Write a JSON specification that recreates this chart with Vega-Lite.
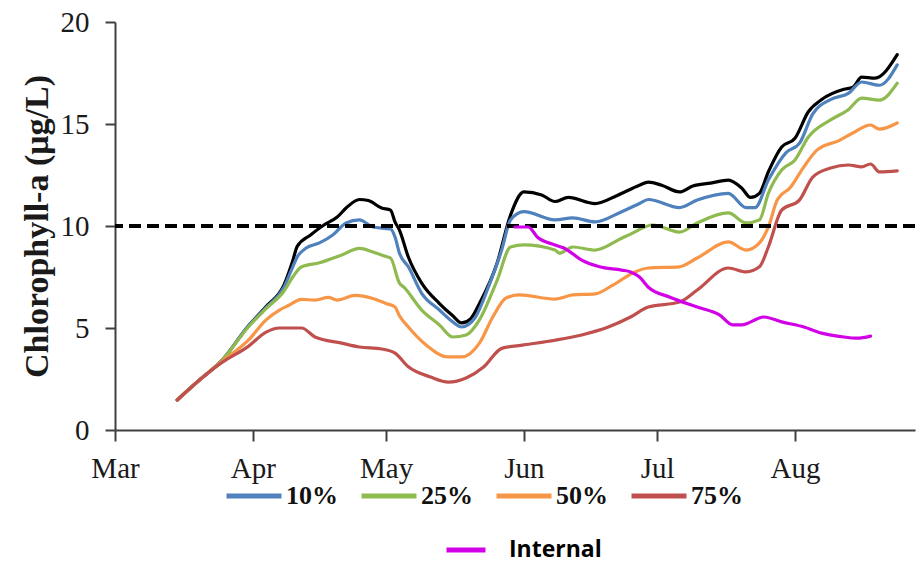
{
  "$schema": "https://vega.github.io/schema/vega-lite/v6.json",
  "width": 800,
  "height": 408,
  "autosize": {"type": "none"},
  "padding": {"left": 115, "top": 22, "right": 5, "bottom": 133},
  "background": "white",
  "config": {
    "view": {"stroke": null},
    "axis": {
      "grid": false,
      "domainColor": "#404040",
      "domainWidth": 2,
      "tickColor": "#404040",
      "tickWidth": 2,
      "labelFont": "Liberation Serif",
      "labelFontSize": 29,
      "labelColor": "#1a1a1a"
    }
  },
  "data": {
    "values": [
      {"date": "2011-03-15", "series": "Base", "value": 1.47},
      {"date": "2011-03-20", "series": "Base", "value": 2.45},
      {"date": "2011-03-25", "series": "Base", "value": 3.4},
      {"date": "2011-03-31", "series": "Base", "value": 5.1},
      {"date": "2011-04-04", "series": "Base", "value": 6.05},
      {"date": "2011-04-08", "series": "Base", "value": 7.1},
      {"date": "2011-04-10", "series": "Base", "value": 8.3},
      {"date": "2011-04-11", "series": "Base", "value": 9.0},
      {"date": "2011-04-14", "series": "Base", "value": 9.56},
      {"date": "2011-04-17", "series": "Base", "value": 10.05},
      {"date": "2011-04-20", "series": "Base", "value": 10.44},
      {"date": "2011-04-22", "series": "Base", "value": 10.88},
      {"date": "2011-04-25", "series": "Base", "value": 11.3},
      {"date": "2011-04-27", "series": "Base", "value": 11.25},
      {"date": "2011-04-30", "series": "Base", "value": 10.88},
      {"date": "2011-05-02", "series": "Base", "value": 10.78},
      {"date": "2011-05-03", "series": "Base", "value": 10.2},
      {"date": "2011-05-04", "series": "Base", "value": 9.8},
      {"date": "2011-05-06", "series": "Base", "value": 8.48},
      {"date": "2011-05-09", "series": "Base", "value": 7.2},
      {"date": "2011-05-13", "series": "Base", "value": 6.2},
      {"date": "2011-05-16", "series": "Base", "value": 5.6},
      {"date": "2011-05-18", "series": "Base", "value": 5.25},
      {"date": "2011-05-20", "series": "Base", "value": 5.45},
      {"date": "2011-05-22", "series": "Base", "value": 6.2},
      {"date": "2011-05-26", "series": "Base", "value": 8.2},
      {"date": "2011-05-29", "series": "Base", "value": 10.54},
      {"date": "2011-06-01", "series": "Base", "value": 11.67},
      {"date": "2011-06-05", "series": "Base", "value": 11.52},
      {"date": "2011-06-08", "series": "Base", "value": 11.2},
      {"date": "2011-06-11", "series": "Base", "value": 11.4},
      {"date": "2011-06-17", "series": "Base", "value": 11.1},
      {"date": "2011-06-22", "series": "Base", "value": 11.5},
      {"date": "2011-06-27", "series": "Base", "value": 12.0},
      {"date": "2011-06-29", "series": "Base", "value": 12.15},
      {"date": "2011-07-02", "series": "Base", "value": 12.0},
      {"date": "2011-07-06", "series": "Base", "value": 11.67},
      {"date": "2011-07-09", "series": "Base", "value": 11.96},
      {"date": "2011-07-13", "series": "Base", "value": 12.1},
      {"date": "2011-07-17", "series": "Base", "value": 12.25},
      {"date": "2011-07-20", "series": "Base", "value": 11.86},
      {"date": "2011-07-22", "series": "Base", "value": 11.4},
      {"date": "2011-07-24", "series": "Base", "value": 11.6},
      {"date": "2011-07-26", "series": "Base", "value": 12.65},
      {"date": "2011-07-29", "series": "Base", "value": 13.87},
      {"date": "2011-08-01", "series": "Base", "value": 14.3},
      {"date": "2011-08-04", "series": "Base", "value": 15.6},
      {"date": "2011-08-07", "series": "Base", "value": 16.2},
      {"date": "2011-08-12", "series": "Base", "value": 16.7},
      {"date": "2011-08-14", "series": "Base", "value": 16.8},
      {"date": "2011-08-16", "series": "Base", "value": 17.3},
      {"date": "2011-08-19", "series": "Base", "value": 17.25},
      {"date": "2011-08-24", "series": "Base", "value": 18.4},

      {"date": "2011-03-15", "series": "10%", "value": 1.47},
      {"date": "2011-03-20", "series": "10%", "value": 2.45},
      {"date": "2011-03-25", "series": "10%", "value": 3.4},
      {"date": "2011-03-31", "series": "10%", "value": 5.1},
      {"date": "2011-04-04", "series": "10%", "value": 6.0},
      {"date": "2011-04-08", "series": "10%", "value": 7.0},
      {"date": "2011-04-10", "series": "10%", "value": 8.0},
      {"date": "2011-04-11", "series": "10%", "value": 8.48},
      {"date": "2011-04-13", "series": "10%", "value": 8.92},
      {"date": "2011-04-16", "series": "10%", "value": 9.17},
      {"date": "2011-04-19", "series": "10%", "value": 9.56},
      {"date": "2011-04-22", "series": "10%", "value": 10.15},
      {"date": "2011-04-25", "series": "10%", "value": 10.3},
      {"date": "2011-04-28", "series": "10%", "value": 9.95},
      {"date": "2011-05-02", "series": "10%", "value": 9.85},
      {"date": "2011-05-03", "series": "10%", "value": 9.46},
      {"date": "2011-05-04", "series": "10%", "value": 8.67},
      {"date": "2011-05-06", "series": "10%", "value": 8.0},
      {"date": "2011-05-09", "series": "10%", "value": 6.7},
      {"date": "2011-05-13", "series": "10%", "value": 5.88},
      {"date": "2011-05-16", "series": "10%", "value": 5.3},
      {"date": "2011-05-18", "series": "10%", "value": 5.05},
      {"date": "2011-05-21", "series": "10%", "value": 5.5},
      {"date": "2011-05-24", "series": "10%", "value": 7.0},
      {"date": "2011-05-27", "series": "10%", "value": 8.82},
      {"date": "2011-05-29", "series": "10%", "value": 10.3},
      {"date": "2011-06-01", "series": "10%", "value": 10.7},
      {"date": "2011-06-08", "series": "10%", "value": 10.3},
      {"date": "2011-06-12", "series": "10%", "value": 10.4},
      {"date": "2011-06-17", "series": "10%", "value": 10.2},
      {"date": "2011-06-23", "series": "10%", "value": 10.7},
      {"date": "2011-06-27", "series": "10%", "value": 11.1},
      {"date": "2011-06-29", "series": "10%", "value": 11.3},
      {"date": "2011-07-06", "series": "10%", "value": 10.9},
      {"date": "2011-07-10", "series": "10%", "value": 11.27},
      {"date": "2011-07-17", "series": "10%", "value": 11.6},
      {"date": "2011-07-21", "series": "10%", "value": 10.9},
      {"date": "2011-07-23", "series": "10%", "value": 10.9},
      {"date": "2011-07-26", "series": "10%", "value": 12.25},
      {"date": "2011-07-30", "series": "10%", "value": 13.6},
      {"date": "2011-08-02", "series": "10%", "value": 14.05},
      {"date": "2011-08-05", "series": "10%", "value": 15.5},
      {"date": "2011-08-09", "series": "10%", "value": 16.2},
      {"date": "2011-08-13", "series": "10%", "value": 16.5},
      {"date": "2011-08-16", "series": "10%", "value": 17.06},
      {"date": "2011-08-20", "series": "10%", "value": 16.9},
      {"date": "2011-08-24", "series": "10%", "value": 17.9},

      {"date": "2011-03-15", "series": "25%", "value": 1.47},
      {"date": "2011-03-20", "series": "25%", "value": 2.45},
      {"date": "2011-03-25", "series": "25%", "value": 3.4},
      {"date": "2011-03-31", "series": "25%", "value": 5.05},
      {"date": "2011-04-04", "series": "25%", "value": 5.95},
      {"date": "2011-04-08", "series": "25%", "value": 6.8},
      {"date": "2011-04-10", "series": "25%", "value": 7.5},
      {"date": "2011-04-12", "series": "25%", "value": 8.0},
      {"date": "2011-04-16", "series": "25%", "value": 8.2},
      {"date": "2011-04-21", "series": "25%", "value": 8.58},
      {"date": "2011-04-25", "series": "25%", "value": 8.9},
      {"date": "2011-04-28", "series": "25%", "value": 8.73},
      {"date": "2011-05-01", "series": "25%", "value": 8.5},
      {"date": "2011-05-02", "series": "25%", "value": 8.43},
      {"date": "2011-05-04", "series": "25%", "value": 7.2},
      {"date": "2011-05-05", "series": "25%", "value": 7.0},
      {"date": "2011-05-09", "series": "25%", "value": 5.88},
      {"date": "2011-05-13", "series": "25%", "value": 5.15},
      {"date": "2011-05-16", "series": "25%", "value": 4.56},
      {"date": "2011-05-19", "series": "25%", "value": 4.66},
      {"date": "2011-05-22", "series": "25%", "value": 5.4},
      {"date": "2011-05-26", "series": "25%", "value": 7.35},
      {"date": "2011-05-29", "series": "25%", "value": 8.97},
      {"date": "2011-06-01", "series": "25%", "value": 9.07},
      {"date": "2011-06-08", "series": "25%", "value": 8.82},
      {"date": "2011-06-09", "series": "25%", "value": 8.67},
      {"date": "2011-06-12", "series": "25%", "value": 8.97},
      {"date": "2011-06-17", "series": "25%", "value": 8.82},
      {"date": "2011-06-23", "series": "25%", "value": 9.4},
      {"date": "2011-06-25", "series": "25%", "value": 9.6},
      {"date": "2011-06-30", "series": "25%", "value": 10.05},
      {"date": "2011-07-06", "series": "25%", "value": 9.7},
      {"date": "2011-07-10", "series": "25%", "value": 10.15},
      {"date": "2011-07-17", "series": "25%", "value": 10.64},
      {"date": "2011-07-21", "series": "25%", "value": 10.15},
      {"date": "2011-07-24", "series": "25%", "value": 10.3},
      {"date": "2011-07-26", "series": "25%", "value": 11.6},
      {"date": "2011-07-29", "series": "25%", "value": 12.75},
      {"date": "2011-08-01", "series": "25%", "value": 13.24},
      {"date": "2011-08-04", "series": "25%", "value": 14.36},
      {"date": "2011-08-09", "series": "25%", "value": 15.2},
      {"date": "2011-08-13", "series": "25%", "value": 15.7},
      {"date": "2011-08-16", "series": "25%", "value": 16.27},
      {"date": "2011-08-20", "series": "25%", "value": 16.17},
      {"date": "2011-08-24", "series": "25%", "value": 17.0},

      {"date": "2011-03-15", "series": "50%", "value": 1.47},
      {"date": "2011-03-20", "series": "50%", "value": 2.45},
      {"date": "2011-03-25", "series": "50%", "value": 3.35},
      {"date": "2011-03-31", "series": "50%", "value": 4.4},
      {"date": "2011-04-04", "series": "50%", "value": 5.4},
      {"date": "2011-04-07", "series": "50%", "value": 5.88},
      {"date": "2011-04-09", "series": "50%", "value": 6.1},
      {"date": "2011-04-12", "series": "50%", "value": 6.4},
      {"date": "2011-04-15", "series": "50%", "value": 6.37},
      {"date": "2011-04-18", "series": "50%", "value": 6.5},
      {"date": "2011-04-20", "series": "50%", "value": 6.37},
      {"date": "2011-04-24", "series": "50%", "value": 6.6},
      {"date": "2011-04-28", "series": "50%", "value": 6.45},
      {"date": "2011-05-01", "series": "50%", "value": 6.2},
      {"date": "2011-05-03", "series": "50%", "value": 6.03},
      {"date": "2011-05-04", "series": "50%", "value": 5.6},
      {"date": "2011-05-06", "series": "50%", "value": 5.05},
      {"date": "2011-05-10", "series": "50%", "value": 4.17},
      {"date": "2011-05-15", "series": "50%", "value": 3.58},
      {"date": "2011-05-18", "series": "50%", "value": 3.58},
      {"date": "2011-05-22", "series": "50%", "value": 4.26},
      {"date": "2011-05-25", "series": "50%", "value": 5.54},
      {"date": "2011-05-28", "series": "50%", "value": 6.47},
      {"date": "2011-05-31", "series": "50%", "value": 6.62},
      {"date": "2011-06-08", "series": "50%", "value": 6.42},
      {"date": "2011-06-12", "series": "50%", "value": 6.62},
      {"date": "2011-06-17", "series": "50%", "value": 6.67},
      {"date": "2011-06-21", "series": "50%", "value": 7.1},
      {"date": "2011-06-26", "series": "50%", "value": 7.75},
      {"date": "2011-06-29", "series": "50%", "value": 7.94},
      {"date": "2011-07-06", "series": "50%", "value": 8.0},
      {"date": "2011-07-10", "series": "50%", "value": 8.43},
      {"date": "2011-07-17", "series": "50%", "value": 9.22},
      {"date": "2011-07-21", "series": "50%", "value": 8.82},
      {"date": "2011-07-24", "series": "50%", "value": 9.17},
      {"date": "2011-07-26", "series": "50%", "value": 9.95},
      {"date": "2011-07-28", "series": "50%", "value": 11.27},
      {"date": "2011-07-31", "series": "50%", "value": 11.9},
      {"date": "2011-08-03", "series": "50%", "value": 12.9},
      {"date": "2011-08-06", "series": "50%", "value": 13.73},
      {"date": "2011-08-11", "series": "50%", "value": 14.2},
      {"date": "2011-08-14", "series": "50%", "value": 14.56},
      {"date": "2011-08-18", "series": "50%", "value": 14.95},
      {"date": "2011-08-20", "series": "50%", "value": 14.75},
      {"date": "2011-08-24", "series": "50%", "value": 15.05},

      {"date": "2011-03-15", "series": "75%", "value": 1.47},
      {"date": "2011-03-20", "series": "75%", "value": 2.45},
      {"date": "2011-03-25", "series": "75%", "value": 3.3},
      {"date": "2011-03-31", "series": "75%", "value": 4.1},
      {"date": "2011-04-04", "series": "75%", "value": 4.8},
      {"date": "2011-04-07", "series": "75%", "value": 5.0},
      {"date": "2011-04-12", "series": "75%", "value": 5.0},
      {"date": "2011-04-15", "series": "75%", "value": 4.56},
      {"date": "2011-04-21", "series": "75%", "value": 4.26},
      {"date": "2011-04-25", "series": "75%", "value": 4.07},
      {"date": "2011-04-30", "series": "75%", "value": 3.97},
      {"date": "2011-05-03", "series": "75%", "value": 3.77},
      {"date": "2011-05-06", "series": "75%", "value": 3.1},
      {"date": "2011-05-11", "series": "75%", "value": 2.6},
      {"date": "2011-05-15", "series": "75%", "value": 2.35},
      {"date": "2011-05-19", "series": "75%", "value": 2.55},
      {"date": "2011-05-23", "series": "75%", "value": 3.1},
      {"date": "2011-05-27", "series": "75%", "value": 4.0},
      {"date": "2011-06-01", "series": "75%", "value": 4.17},
      {"date": "2011-06-08", "series": "75%", "value": 4.4},
      {"date": "2011-06-14", "series": "75%", "value": 4.66},
      {"date": "2011-06-20", "series": "75%", "value": 5.05},
      {"date": "2011-06-25", "series": "75%", "value": 5.54},
      {"date": "2011-06-29", "series": "75%", "value": 6.03},
      {"date": "2011-07-06", "series": "75%", "value": 6.27},
      {"date": "2011-07-10", "series": "75%", "value": 6.86},
      {"date": "2011-07-17", "series": "75%", "value": 7.94},
      {"date": "2011-07-21", "series": "75%", "value": 7.75},
      {"date": "2011-07-24", "series": "75%", "value": 8.0},
      {"date": "2011-07-26", "series": "75%", "value": 8.97},
      {"date": "2011-07-29", "series": "75%", "value": 10.78},
      {"date": "2011-08-02", "series": "75%", "value": 11.27},
      {"date": "2011-08-05", "series": "75%", "value": 12.4},
      {"date": "2011-08-09", "series": "75%", "value": 12.84},
      {"date": "2011-08-13", "series": "75%", "value": 12.99},
      {"date": "2011-08-16", "series": "75%", "value": 12.9},
      {"date": "2011-08-18", "series": "75%", "value": 13.04},
      {"date": "2011-08-20", "series": "75%", "value": 12.65},
      {"date": "2011-08-24", "series": "75%", "value": 12.7},

      {"date": "2011-05-30", "series": "Internal", "value": 9.95},
      {"date": "2011-06-02", "series": "Internal", "value": 9.95},
      {"date": "2011-06-04", "series": "Internal", "value": 9.46},
      {"date": "2011-06-08", "series": "Internal", "value": 9.07},
      {"date": "2011-06-10", "series": "Internal", "value": 8.92},
      {"date": "2011-06-14", "series": "Internal", "value": 8.33},
      {"date": "2011-06-18", "series": "Internal", "value": 8.0},
      {"date": "2011-06-23", "series": "Internal", "value": 7.84},
      {"date": "2011-06-25", "series": "Internal", "value": 7.75},
      {"date": "2011-06-27", "series": "Internal", "value": 7.5},
      {"date": "2011-06-29", "series": "Internal", "value": 7.0},
      {"date": "2011-07-04", "series": "Internal", "value": 6.5},
      {"date": "2011-07-10", "series": "Internal", "value": 6.03},
      {"date": "2011-07-15", "series": "Internal", "value": 5.64},
      {"date": "2011-07-18", "series": "Internal", "value": 5.15},
      {"date": "2011-07-20", "series": "Internal", "value": 5.15},
      {"date": "2011-07-25", "series": "Internal", "value": 5.54},
      {"date": "2011-07-29", "series": "Internal", "value": 5.3},
      {"date": "2011-08-03", "series": "Internal", "value": 5.05},
      {"date": "2011-08-07", "series": "Internal", "value": 4.75},
      {"date": "2011-08-12", "series": "Internal", "value": 4.56},
      {"date": "2011-08-15", "series": "Internal", "value": 4.5},
      {"date": "2011-08-18", "series": "Internal", "value": 4.6}
    ]
  },
  "layer": [
    {
      "transform": [{"filter": "datum.series === 'Base'"}],
      "mark": {"type": "line", "color": "#000000", "strokeWidth": 3.2, "interpolate": "monotone", "strokeCap": "round"},
      "encoding": {
        "x": {
          "field": "date",
          "type": "temporal",
          "scale": {"type": "utc", "domain": ["2011-03-01", "2011-08-28"]},
          "axis": {
            "title": null,
            "labelExpr": "utcFormat(datum.value, '%b')",
            "values": [
              {"year": 2011, "month": 3, "date": 1, "utc": true},
              {"year": 2011, "month": 4, "date": 1, "utc": true},
              {"year": 2011, "month": 5, "date": 1, "utc": true},
              {"year": 2011, "month": 6, "date": 1, "utc": true},
              {"year": 2011, "month": 7, "date": 1, "utc": true},
              {"year": 2011, "month": 8, "date": 1, "utc": true}
            ],
            "tickSize": 11,
            "labelPadding": 13,
            "labelAlign": "center",
            "labelFlush": false
          }
        },
        "y": {
          "field": "value",
          "type": "quantitative",
          "scale": {"domain": [0, 20], "nice": false},
          "axis": {
            "title": "Chlorophyll-a (μg/L)",
            "titleFont": "Liberation Serif",
            "titleFontSize": 34,
            "titleFontWeight": "bold",
            "titleColor": "#1a1a1a",
            "titlePadding": 6,
            "values": [0, 5, 10, 15, 20],
            "tickSize": 10,
            "labelPadding": 16
          }
        }
      }
    },
    {
      "transform": [{"filter": "indexof(['10%','25%','50%','75%'], datum.series) >= 0"}],
      "mark": {"type": "line", "strokeWidth": 3.2, "interpolate": "monotone", "strokeCap": "round"},
      "encoding": {
        "x": {"field": "date", "type": "temporal"},
        "y": {"field": "value", "type": "quantitative"},
        "color": {
          "field": "series",
          "type": "nominal",
          "scale": {"domain": ["10%", "25%", "50%", "75%"], "range": ["#4f81bd", "#8fba50", "#f79646", "#c0504d"]},
          "legend": {
            "title": null,
            "orient": "none",
            "legendX": 109,
            "legendY": 444,
            "direction": "horizontal",
            "columns": 4,
            "symbolType": "stroke",
            "symbolSize": 3025,
            "symbolStrokeWidth": 5,
            "labelFont": "Liberation Serif",
            "labelFontWeight": "bold",
            "labelFontSize": 26,
            "labelColor": "#111111",
            "labelOffset": 2,
            "columnPadding": 13,
            "padding": 0
          }
        },
        "order": {"field": "series", "sort": "descending"}
      }
    },
    {
      "mark": {"type": "rule", "color": "#000000", "strokeWidth": 3.8, "strokeDash": [12, 6]},
      "encoding": {"y": {"datum": 10}}
    },
    {
      "transform": [{"filter": "datum.series === 'Internal'"}],
      "mark": {"type": "line", "strokeWidth": 3.2, "interpolate": "monotone", "strokeCap": "round"},
      "encoding": {
        "x": {"field": "date", "type": "temporal"},
        "y": {"field": "value", "type": "quantitative"},
        "color": {
          "field": "series",
          "type": "nominal",
          "scale": {"domain": ["Internal"], "range": ["#d200e6"]},
          "legend": {
            "title": null,
            "orient": "none",
            "legendX": 329,
            "legendY": 506,
            "symbolType": "stroke",
            "symbolSize": 1521,
            "symbolStrokeWidth": 5,
            "labelFont": "Open Sans",
            "labelFontWeight": "bold",
            "labelFontSize": 23,
            "labelColor": "#000000",
            "labelOffset": 21,
            "padding": 0
          }
        }
      }
    }
  ],
  "resolve": {"scale": {"color": "independent"}, "legend": {"color": "independent"}}
}
